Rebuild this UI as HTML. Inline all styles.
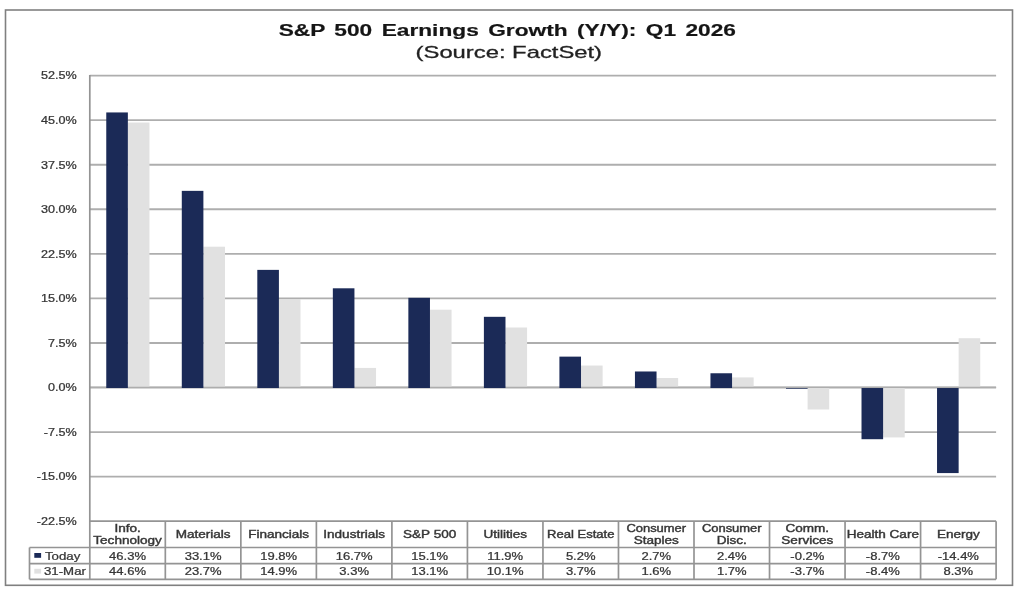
<!DOCTYPE html>
<html><head><meta charset="utf-8"><title>S&amp;P 500 Earnings Growth</title>
<style>html,body{margin:0;padding:0;background:#fff;width:1020px;height:593px;overflow:hidden}svg{filter:blur(0.5px)}</style></head>
<body>
<svg width="1020" height="593" viewBox="0 0 1020 593" style="display:block" font-family="'Liberation Sans', sans-serif">
<rect x="0" y="0" width="1020" height="593" fill="#fff"/>
<rect x="5.5" y="10" width="1007" height="575.3" fill="none" stroke="#808080" stroke-width="1.6"/>
<line x1="89.8" y1="75.60" x2="996.1" y2="75.60" stroke="#aeaeae" stroke-width="1.9"/>
<line x1="89.8" y1="120.16" x2="996.1" y2="120.16" stroke="#aeaeae" stroke-width="1.9"/>
<line x1="89.8" y1="164.72" x2="996.1" y2="164.72" stroke="#aeaeae" stroke-width="1.9"/>
<line x1="89.8" y1="209.28" x2="996.1" y2="209.28" stroke="#aeaeae" stroke-width="1.9"/>
<line x1="89.8" y1="253.84" x2="996.1" y2="253.84" stroke="#aeaeae" stroke-width="1.9"/>
<line x1="89.8" y1="298.40" x2="996.1" y2="298.40" stroke="#aeaeae" stroke-width="1.9"/>
<line x1="89.8" y1="342.96" x2="996.1" y2="342.96" stroke="#aeaeae" stroke-width="1.9"/>
<line x1="89.8" y1="387.52" x2="996.1" y2="387.52" stroke="#aeaeae" stroke-width="1.9"/>
<line x1="89.8" y1="432.08" x2="996.1" y2="432.08" stroke="#aeaeae" stroke-width="1.9"/>
<line x1="89.8" y1="476.64" x2="996.1" y2="476.64" stroke="#aeaeae" stroke-width="1.9"/>
<rect x="127.86" y="122.54" width="21.6" height="264.98" fill="#e1e1e1"/>
<rect x="203.39" y="246.71" width="21.6" height="140.81" fill="#e1e1e1"/>
<rect x="278.91" y="298.99" width="21.6" height="88.53" fill="#e1e1e1"/>
<rect x="354.44" y="367.91" width="21.6" height="19.61" fill="#e1e1e1"/>
<rect x="429.96" y="309.69" width="21.6" height="77.83" fill="#e1e1e1"/>
<rect x="505.49" y="327.51" width="21.6" height="60.01" fill="#e1e1e1"/>
<rect x="581.01" y="365.54" width="21.6" height="21.98" fill="#e1e1e1"/>
<rect x="656.54" y="378.01" width="21.6" height="9.51" fill="#e1e1e1"/>
<rect x="732.06" y="377.42" width="21.6" height="10.10" fill="#e1e1e1"/>
<rect x="807.59" y="387.52" width="21.6" height="21.98" fill="#e1e1e1"/>
<rect x="883.11" y="387.52" width="21.6" height="49.91" fill="#e1e1e1"/>
<rect x="958.64" y="338.21" width="21.6" height="49.31" fill="#e1e1e1"/>
<line x1="89.8" y1="387.42" x2="996.1" y2="387.42" stroke="#adadad" stroke-width="1.3"/>
<rect x="106.26" y="112.44" width="21.6" height="275.58" fill="#1b2a57"/>
<rect x="181.79" y="190.86" width="21.6" height="197.16" fill="#1b2a57"/>
<rect x="257.31" y="269.88" width="21.6" height="118.14" fill="#1b2a57"/>
<rect x="332.84" y="288.30" width="21.6" height="99.72" fill="#1b2a57"/>
<rect x="408.36" y="297.81" width="21.6" height="90.21" fill="#1b2a57"/>
<rect x="483.89" y="316.82" width="21.6" height="71.20" fill="#1b2a57"/>
<rect x="559.41" y="356.63" width="21.6" height="31.39" fill="#1b2a57"/>
<rect x="634.94" y="371.48" width="21.6" height="16.54" fill="#1b2a57"/>
<rect x="710.46" y="373.26" width="21.6" height="14.76" fill="#1b2a57"/>
<rect x="785.99" y="388.02" width="21.6" height="0.69" fill="#1b2a57"/>
<rect x="861.51" y="388.02" width="21.6" height="51.19" fill="#1b2a57"/>
<rect x="937.04" y="388.02" width="21.6" height="85.06" fill="#1b2a57"/>
<line x1="89.8" y1="75.0" x2="89.8" y2="579.3" stroke="#949494" stroke-width="1.7"/>
<line x1="89.8" y1="521.2" x2="996.1" y2="521.2" stroke="#949494" stroke-width="1.7"/>
<line x1="29.5" y1="547.5" x2="996.1" y2="547.5" stroke="#949494" stroke-width="1.7"/>
<line x1="29.5" y1="563.6" x2="996.1" y2="563.6" stroke="#949494" stroke-width="1.7"/>
<line x1="29.5" y1="579.3" x2="996.1" y2="579.3" stroke="#949494" stroke-width="1.7"/>
<line x1="29.5" y1="547.5" x2="29.5" y2="579.3" stroke="#949494" stroke-width="1.7"/>
<line x1="165.32" y1="521.2" x2="165.32" y2="579.3" stroke="#949494" stroke-width="1.7"/>
<line x1="240.85" y1="521.2" x2="240.85" y2="579.3" stroke="#949494" stroke-width="1.7"/>
<line x1="316.38" y1="521.2" x2="316.38" y2="579.3" stroke="#949494" stroke-width="1.7"/>
<line x1="391.90" y1="521.2" x2="391.90" y2="579.3" stroke="#949494" stroke-width="1.7"/>
<line x1="467.43" y1="521.2" x2="467.43" y2="579.3" stroke="#949494" stroke-width="1.7"/>
<line x1="542.95" y1="521.2" x2="542.95" y2="579.3" stroke="#949494" stroke-width="1.7"/>
<line x1="618.48" y1="521.2" x2="618.48" y2="579.3" stroke="#949494" stroke-width="1.7"/>
<line x1="694.00" y1="521.2" x2="694.00" y2="579.3" stroke="#949494" stroke-width="1.7"/>
<line x1="769.52" y1="521.2" x2="769.52" y2="579.3" stroke="#949494" stroke-width="1.7"/>
<line x1="845.05" y1="521.2" x2="845.05" y2="579.3" stroke="#949494" stroke-width="1.7"/>
<line x1="920.58" y1="521.2" x2="920.58" y2="579.3" stroke="#949494" stroke-width="1.7"/>
<line x1="996.10" y1="521.2" x2="996.10" y2="579.3" stroke="#949494" stroke-width="1.7"/>
<text transform="translate(76.70,79.40) scale(1.2,1)" font-size="10.5" font-weight="normal" text-anchor="end" fill="#363636" word-spacing="0" stroke="#363636" stroke-width="0.25">52.5%</text>
<text transform="translate(76.70,123.96) scale(1.2,1)" font-size="10.5" font-weight="normal" text-anchor="end" fill="#363636" word-spacing="0" stroke="#363636" stroke-width="0.25">45.0%</text>
<text transform="translate(76.70,168.52) scale(1.2,1)" font-size="10.5" font-weight="normal" text-anchor="end" fill="#363636" word-spacing="0" stroke="#363636" stroke-width="0.25">37.5%</text>
<text transform="translate(76.70,213.08) scale(1.2,1)" font-size="10.5" font-weight="normal" text-anchor="end" fill="#363636" word-spacing="0" stroke="#363636" stroke-width="0.25">30.0%</text>
<text transform="translate(76.70,257.64) scale(1.2,1)" font-size="10.5" font-weight="normal" text-anchor="end" fill="#363636" word-spacing="0" stroke="#363636" stroke-width="0.25">22.5%</text>
<text transform="translate(76.70,302.20) scale(1.2,1)" font-size="10.5" font-weight="normal" text-anchor="end" fill="#363636" word-spacing="0" stroke="#363636" stroke-width="0.25">15.0%</text>
<text transform="translate(76.70,346.76) scale(1.2,1)" font-size="10.5" font-weight="normal" text-anchor="end" fill="#363636" word-spacing="0" stroke="#363636" stroke-width="0.25">7.5%</text>
<text transform="translate(76.70,391.32) scale(1.2,1)" font-size="10.5" font-weight="normal" text-anchor="end" fill="#363636" word-spacing="0" stroke="#363636" stroke-width="0.25">0.0%</text>
<text transform="translate(76.70,435.88) scale(1.2,1)" font-size="10.5" font-weight="normal" text-anchor="end" fill="#363636" word-spacing="0" stroke="#363636" stroke-width="0.25">-7.5%</text>
<text transform="translate(76.70,480.44) scale(1.2,1)" font-size="10.5" font-weight="normal" text-anchor="end" fill="#363636" word-spacing="0" stroke="#363636" stroke-width="0.25">-15.0%</text>
<text transform="translate(76.70,525.00) scale(1.2,1)" font-size="10.5" font-weight="normal" text-anchor="end" fill="#363636" word-spacing="0" stroke="#363636" stroke-width="0.25">-22.5%</text>
<text transform="translate(127.56,532.20) scale(1.29,1)" font-size="10.5" font-weight="normal" text-anchor="middle" fill="#363636" word-spacing="0" stroke="#363636" stroke-width="0.4">Info.</text>
<text transform="translate(127.56,544.00) scale(1.29,1)" font-size="10.5" font-weight="normal" text-anchor="middle" fill="#363636" word-spacing="0" stroke="#363636" stroke-width="0.4">Technology</text>
<text transform="translate(127.56,559.60) scale(1.24,1)" font-size="10.5" font-weight="normal" text-anchor="middle" fill="#363636" word-spacing="0" stroke="#363636" stroke-width="0.25">46.3%</text>
<text transform="translate(127.56,575.40) scale(1.24,1)" font-size="10.5" font-weight="normal" text-anchor="middle" fill="#363636" word-spacing="0" stroke="#363636" stroke-width="0.25">44.6%</text>
<text transform="translate(203.09,538.20) scale(1.29,1)" font-size="10.5" font-weight="normal" text-anchor="middle" fill="#363636" word-spacing="0" stroke="#363636" stroke-width="0.4">Materials</text>
<text transform="translate(203.09,559.60) scale(1.24,1)" font-size="10.5" font-weight="normal" text-anchor="middle" fill="#363636" word-spacing="0" stroke="#363636" stroke-width="0.25">33.1%</text>
<text transform="translate(203.09,575.40) scale(1.24,1)" font-size="10.5" font-weight="normal" text-anchor="middle" fill="#363636" word-spacing="0" stroke="#363636" stroke-width="0.25">23.7%</text>
<text transform="translate(278.61,538.20) scale(1.29,1)" font-size="10.5" font-weight="normal" text-anchor="middle" fill="#363636" word-spacing="0" stroke="#363636" stroke-width="0.4">Financials</text>
<text transform="translate(278.61,559.60) scale(1.24,1)" font-size="10.5" font-weight="normal" text-anchor="middle" fill="#363636" word-spacing="0" stroke="#363636" stroke-width="0.25">19.8%</text>
<text transform="translate(278.61,575.40) scale(1.24,1)" font-size="10.5" font-weight="normal" text-anchor="middle" fill="#363636" word-spacing="0" stroke="#363636" stroke-width="0.25">14.9%</text>
<text transform="translate(354.14,538.20) scale(1.29,1)" font-size="10.5" font-weight="normal" text-anchor="middle" fill="#363636" word-spacing="0" stroke="#363636" stroke-width="0.4">Industrials</text>
<text transform="translate(354.14,559.60) scale(1.24,1)" font-size="10.5" font-weight="normal" text-anchor="middle" fill="#363636" word-spacing="0" stroke="#363636" stroke-width="0.25">16.7%</text>
<text transform="translate(354.14,575.40) scale(1.24,1)" font-size="10.5" font-weight="normal" text-anchor="middle" fill="#363636" word-spacing="0" stroke="#363636" stroke-width="0.25">3.3%</text>
<text transform="translate(429.66,538.20) scale(1.29,1)" font-size="10.5" font-weight="normal" text-anchor="middle" fill="#363636" word-spacing="0" stroke="#363636" stroke-width="0.4">S&amp;P 500</text>
<text transform="translate(429.66,559.60) scale(1.24,1)" font-size="10.5" font-weight="normal" text-anchor="middle" fill="#363636" word-spacing="0" stroke="#363636" stroke-width="0.25">15.1%</text>
<text transform="translate(429.66,575.40) scale(1.24,1)" font-size="10.5" font-weight="normal" text-anchor="middle" fill="#363636" word-spacing="0" stroke="#363636" stroke-width="0.25">13.1%</text>
<text transform="translate(505.19,538.20) scale(1.29,1)" font-size="10.5" font-weight="normal" text-anchor="middle" fill="#363636" word-spacing="0" stroke="#363636" stroke-width="0.4">Utilities</text>
<text transform="translate(505.19,559.60) scale(1.24,1)" font-size="10.5" font-weight="normal" text-anchor="middle" fill="#363636" word-spacing="0" stroke="#363636" stroke-width="0.25">11.9%</text>
<text transform="translate(505.19,575.40) scale(1.24,1)" font-size="10.5" font-weight="normal" text-anchor="middle" fill="#363636" word-spacing="0" stroke="#363636" stroke-width="0.25">10.1%</text>
<text transform="translate(580.71,538.20) scale(1.245,1)" font-size="10.5" font-weight="normal" text-anchor="middle" fill="#363636" word-spacing="0" stroke="#363636" stroke-width="0.4">Real Estate</text>
<text transform="translate(580.71,559.60) scale(1.24,1)" font-size="10.5" font-weight="normal" text-anchor="middle" fill="#363636" word-spacing="0" stroke="#363636" stroke-width="0.25">5.2%</text>
<text transform="translate(580.71,575.40) scale(1.24,1)" font-size="10.5" font-weight="normal" text-anchor="middle" fill="#363636" word-spacing="0" stroke="#363636" stroke-width="0.25">3.7%</text>
<text transform="translate(656.24,532.20) scale(1.235,1)" font-size="10.5" font-weight="normal" text-anchor="middle" fill="#363636" word-spacing="0" stroke="#363636" stroke-width="0.4">Consumer</text>
<text transform="translate(656.24,544.00) scale(1.29,1)" font-size="10.5" font-weight="normal" text-anchor="middle" fill="#363636" word-spacing="0" stroke="#363636" stroke-width="0.4">Staples</text>
<text transform="translate(656.24,559.60) scale(1.24,1)" font-size="10.5" font-weight="normal" text-anchor="middle" fill="#363636" word-spacing="0" stroke="#363636" stroke-width="0.25">2.7%</text>
<text transform="translate(656.24,575.40) scale(1.24,1)" font-size="10.5" font-weight="normal" text-anchor="middle" fill="#363636" word-spacing="0" stroke="#363636" stroke-width="0.25">1.6%</text>
<text transform="translate(731.76,532.20) scale(1.235,1)" font-size="10.5" font-weight="normal" text-anchor="middle" fill="#363636" word-spacing="0" stroke="#363636" stroke-width="0.4">Consumer</text>
<text transform="translate(731.76,544.00) scale(1.29,1)" font-size="10.5" font-weight="normal" text-anchor="middle" fill="#363636" word-spacing="0" stroke="#363636" stroke-width="0.4">Disc.</text>
<text transform="translate(731.76,559.60) scale(1.24,1)" font-size="10.5" font-weight="normal" text-anchor="middle" fill="#363636" word-spacing="0" stroke="#363636" stroke-width="0.25">2.4%</text>
<text transform="translate(731.76,575.40) scale(1.24,1)" font-size="10.5" font-weight="normal" text-anchor="middle" fill="#363636" word-spacing="0" stroke="#363636" stroke-width="0.25">1.7%</text>
<text transform="translate(807.29,532.20) scale(1.29,1)" font-size="10.5" font-weight="normal" text-anchor="middle" fill="#363636" word-spacing="0" stroke="#363636" stroke-width="0.4">Comm.</text>
<text transform="translate(807.29,544.00) scale(1.29,1)" font-size="10.5" font-weight="normal" text-anchor="middle" fill="#363636" word-spacing="0" stroke="#363636" stroke-width="0.4">Services</text>
<text transform="translate(807.29,559.60) scale(1.24,1)" font-size="10.5" font-weight="normal" text-anchor="middle" fill="#363636" word-spacing="0" stroke="#363636" stroke-width="0.25">-0.2%</text>
<text transform="translate(807.29,575.40) scale(1.24,1)" font-size="10.5" font-weight="normal" text-anchor="middle" fill="#363636" word-spacing="0" stroke="#363636" stroke-width="0.25">-3.7%</text>
<text transform="translate(882.81,538.20) scale(1.29,1)" font-size="10.5" font-weight="normal" text-anchor="middle" fill="#363636" word-spacing="0" stroke="#363636" stroke-width="0.4">Health Care</text>
<text transform="translate(882.81,559.60) scale(1.24,1)" font-size="10.5" font-weight="normal" text-anchor="middle" fill="#363636" word-spacing="0" stroke="#363636" stroke-width="0.25">-8.7%</text>
<text transform="translate(882.81,575.40) scale(1.24,1)" font-size="10.5" font-weight="normal" text-anchor="middle" fill="#363636" word-spacing="0" stroke="#363636" stroke-width="0.25">-8.4%</text>
<text transform="translate(958.34,538.20) scale(1.29,1)" font-size="10.5" font-weight="normal" text-anchor="middle" fill="#363636" word-spacing="0" stroke="#363636" stroke-width="0.4">Energy</text>
<text transform="translate(958.34,559.60) scale(1.24,1)" font-size="10.5" font-weight="normal" text-anchor="middle" fill="#363636" word-spacing="0" stroke="#363636" stroke-width="0.25">-14.4%</text>
<text transform="translate(958.34,575.40) scale(1.24,1)" font-size="10.5" font-weight="normal" text-anchor="middle" fill="#363636" word-spacing="0" stroke="#363636" stroke-width="0.25">8.3%</text>
<rect x="34.3" y="553" width="6.8" height="4.8" fill="#1b2a57"/>
<rect x="34.3" y="568.8" width="6.8" height="4.8" fill="#e1e1e1"/>
<text transform="translate(44.90,559.60) scale(1.265,1)" font-size="10.5" font-weight="normal" text-anchor="start" fill="#363636" word-spacing="0" stroke="#363636" stroke-width="0.25">Today</text>
<text transform="translate(44.00,575.40) scale(1.26,1)" font-size="10.5" font-weight="normal" text-anchor="start" fill="#363636" word-spacing="0" stroke="#363636" stroke-width="0.25">31-Mar</text>
<text transform="translate(507.30,36.00) scale(1.305,1)" font-size="17.4" font-weight="bold" text-anchor="middle" fill="#151515" word-spacing="2.4" stroke="#151515" stroke-width="0.2">S&amp;P 500 Earnings Growth (Y/Y): Q1 2026</text>
<text transform="translate(508.80,58.20) scale(1.4,1)" font-size="17" font-weight="normal" text-anchor="middle" fill="#222" word-spacing="0" stroke="#222" stroke-width="0.3">(Source: FactSet)</text>
</svg>
</body></html>
